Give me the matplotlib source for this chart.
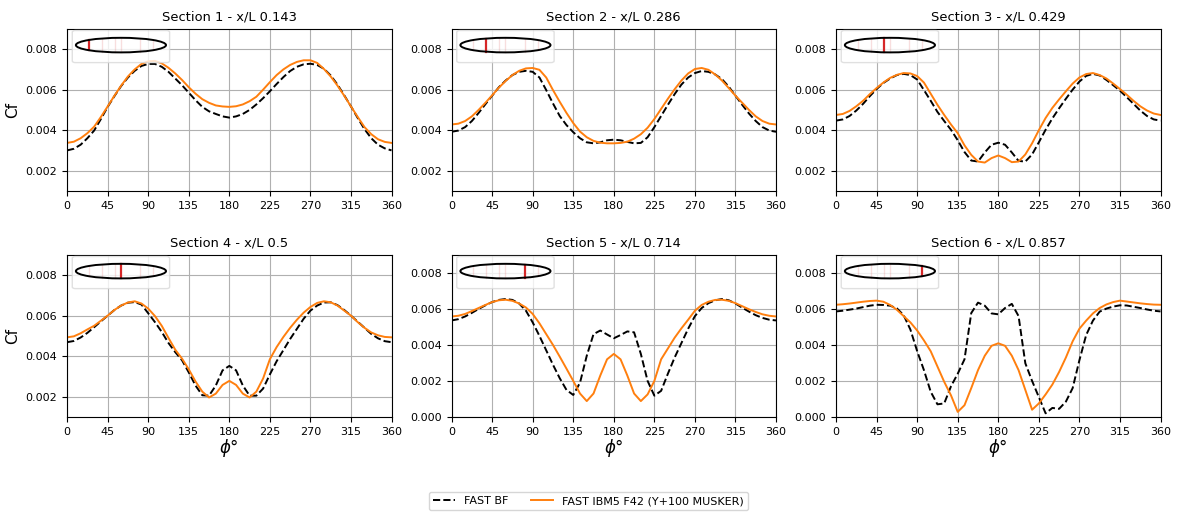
import numpy as np
import matplotlib
matplotlib.use('Agg')
import matplotlib.pyplot as plt
from matplotlib.patches import Ellipse, FancyBboxPatch

# Skin friction around the hull, six sections along the body
phi = np.arange(0, 360.1, 7.5)

sections = [0.143, 0.286, 0.429, 0.5, 0.714, 0.857]
titles = ['Section 1 - x/L 0.143', 'Section 2 - x/L 0.286', 'Section 3 - x/L 0.429',
          'Section 4 - x/L 0.5', 'Section 5 - x/L 0.714', 'Section 6 - x/L 0.857']

bf_1 = [0.00300, 0.00308, 0.00328, 0.00360, 0.00398, 0.00455, 0.00515, 0.00568, 0.00618, 0.00660,
        0.00693, 0.00717, 0.00727, 0.00727, 0.00713, 0.00688, 0.00655, 0.00622, 0.00585, 0.00548,
        0.00515, 0.00493, 0.00480, 0.00468, 0.00462, 0.00468, 0.00480, 0.00500, 0.00527, 0.00558,
        0.00592, 0.00628, 0.00662, 0.00692, 0.00713, 0.00725, 0.00728, 0.00722, 0.00703, 0.00670,
        0.00625, 0.00572, 0.00517, 0.00460, 0.00405, 0.00360, 0.00328, 0.00310, 0.00300]
ibm_1 = [0.00337, 0.00343, 0.00360, 0.00385, 0.00417, 0.00465, 0.00517, 0.00570, 0.00620, 0.00665,
         0.00700, 0.00727, 0.00740, 0.00742, 0.00730, 0.00708, 0.00680, 0.00648, 0.00612, 0.00580,
         0.00553, 0.00535, 0.00522, 0.00517, 0.00515, 0.00518, 0.00527, 0.00543, 0.00565, 0.00600,
         0.00637, 0.00672, 0.00700, 0.00722, 0.00737, 0.00745, 0.00745, 0.00732, 0.00702, 0.00665,
         0.00620, 0.00570, 0.00517, 0.00465, 0.00415, 0.00380, 0.00355, 0.00342, 0.00337]

bf_2 = [0.00392, 0.00398, 0.00415, 0.00445, 0.00485, 0.00528, 0.00570, 0.00612, 0.00645, 0.00672,
        0.00688, 0.00693, 0.00688, 0.00660, 0.00598, 0.00532, 0.00470, 0.00425, 0.00390, 0.00360,
        0.00340, 0.00335, 0.00340, 0.00350, 0.00353, 0.00350, 0.00342, 0.00335, 0.00337, 0.00365,
        0.00415, 0.00470, 0.00525, 0.00578, 0.00625, 0.00660, 0.00682, 0.00692, 0.00688, 0.00675,
        0.00652, 0.00615, 0.00570, 0.00525, 0.00482, 0.00445, 0.00415, 0.00398, 0.00392]
ibm_2 = [0.00428, 0.00432, 0.00445, 0.00468, 0.00500, 0.00535, 0.00572, 0.00610, 0.00643, 0.00672,
         0.00693, 0.00705, 0.00707, 0.00698, 0.00660, 0.00598, 0.00540, 0.00485, 0.00435, 0.00393,
         0.00365, 0.00347, 0.00338, 0.00335, 0.00335, 0.00337, 0.00343, 0.00358, 0.00380, 0.00412,
         0.00455, 0.00505, 0.00555, 0.00602, 0.00645, 0.00680, 0.00702, 0.00707, 0.00698, 0.00675,
         0.00645, 0.00608, 0.00570, 0.00535, 0.00500, 0.00468, 0.00445, 0.00432, 0.00428]

bf_3 = [0.00447, 0.00453, 0.00470, 0.00497, 0.00530, 0.00568, 0.00603, 0.00633, 0.00655, 0.00672,
        0.00678, 0.00672, 0.00650, 0.00598, 0.00545, 0.00490, 0.00445, 0.00402, 0.00350, 0.00292,
        0.00250, 0.00245, 0.00290, 0.00328, 0.00338, 0.00328, 0.00290, 0.00248, 0.00245, 0.00280,
        0.00340, 0.00402, 0.00458, 0.00508, 0.00555, 0.00600, 0.00640, 0.00668, 0.00678, 0.00670,
        0.00648, 0.00622, 0.00595, 0.00563, 0.00530, 0.00497, 0.00470, 0.00453, 0.00447]
ibm_3 = [0.00475, 0.00480, 0.00495, 0.00518, 0.00545, 0.00578, 0.00608, 0.00635, 0.00658, 0.00673,
         0.00682, 0.00680, 0.00667, 0.00635, 0.00580, 0.00525, 0.00475, 0.00428, 0.00385, 0.00325,
         0.00278, 0.00245, 0.00240, 0.00262, 0.00275, 0.00262, 0.00242, 0.00245, 0.00280, 0.00335,
         0.00400, 0.00460, 0.00510, 0.00552, 0.00592, 0.00630, 0.00660, 0.00677, 0.00682, 0.00672,
         0.00655, 0.00630, 0.00603, 0.00575, 0.00545, 0.00518, 0.00497, 0.00482, 0.00475]

bf_4 = [0.00469, 0.00475, 0.00492, 0.00515, 0.00543, 0.00572, 0.00600, 0.00628, 0.00650, 0.00664,
        0.00667, 0.00655, 0.00612, 0.00568, 0.00520, 0.00465, 0.00420, 0.00380, 0.00320, 0.00255,
        0.00207, 0.00205, 0.00255, 0.00330, 0.00352, 0.00330, 0.00255, 0.00205, 0.00205, 0.00240,
        0.00310, 0.00375, 0.00430, 0.00485, 0.00535, 0.00585, 0.00625, 0.00650, 0.00665, 0.00666,
        0.00652, 0.00628, 0.00600, 0.00570, 0.00540, 0.00510, 0.00488, 0.00474, 0.00469]
ibm_4 = [0.00493, 0.00498, 0.00513, 0.00532, 0.00550, 0.00575, 0.00600, 0.00628, 0.00650, 0.00665,
         0.00671, 0.00660, 0.00635, 0.00598, 0.00550, 0.00490, 0.00432, 0.00388, 0.00335, 0.00275,
         0.00225, 0.00196, 0.00215, 0.00258, 0.00278, 0.00258, 0.00215, 0.00196, 0.00225, 0.00290,
         0.00385, 0.00445, 0.00495, 0.00540, 0.00580, 0.00615, 0.00643, 0.00663, 0.00671, 0.00666,
         0.00650, 0.00625, 0.00600, 0.00568, 0.00540, 0.00517, 0.00503, 0.00495, 0.00493]

bf_5 = [0.00536, 0.00543, 0.00558, 0.00578, 0.00600, 0.00620, 0.00638, 0.00650, 0.00655, 0.00650,
        0.00630, 0.00590, 0.00525, 0.00450, 0.00370, 0.00290, 0.00215, 0.00150, 0.00122, 0.00190,
        0.00340, 0.00460, 0.00480, 0.00458, 0.00437, 0.00455, 0.00475, 0.00470, 0.00350, 0.00200,
        0.00118, 0.00145, 0.00240, 0.00330, 0.00410, 0.00490, 0.00560, 0.00605, 0.00632, 0.00648,
        0.00655, 0.00648, 0.00630, 0.00607, 0.00585, 0.00565, 0.00550, 0.00540, 0.00536]
ibm_5 = [0.00558, 0.00562, 0.00572, 0.00588, 0.00605, 0.00622, 0.00638, 0.00648, 0.00651, 0.00645,
         0.00630, 0.00608, 0.00572, 0.00520, 0.00460, 0.00400, 0.00335, 0.00268, 0.00200, 0.00130,
         0.00088, 0.00130, 0.00230, 0.00320, 0.00350, 0.00320, 0.00230, 0.00130, 0.00088, 0.00125,
         0.00200, 0.00320, 0.00380, 0.00440, 0.00492, 0.00540, 0.00590, 0.00622, 0.00640, 0.00650,
         0.00651, 0.00645, 0.00632, 0.00615, 0.00598, 0.00583, 0.00570, 0.00562, 0.00558]

bf_6 = [0.00586, 0.00590, 0.00596, 0.00602, 0.00610, 0.00618, 0.00623, 0.00622, 0.00618, 0.00603,
        0.00565, 0.00485, 0.00365, 0.00260, 0.00140, 0.00070, 0.00075, 0.00170, 0.00240, 0.00320,
        0.00577, 0.00635, 0.00618, 0.00575, 0.00570, 0.00605, 0.00628, 0.00560, 0.00298, 0.00200,
        0.00110, 0.00020, 0.00050, 0.00045, 0.00085, 0.00160, 0.00315, 0.00455, 0.00535, 0.00585,
        0.00602, 0.00613, 0.00620, 0.00619, 0.00612, 0.00605, 0.00597, 0.00590, 0.00586]
ibm_6 = [0.00623, 0.00626, 0.00630, 0.00635, 0.00640, 0.00644, 0.00646, 0.00640, 0.00622, 0.00595,
         0.00560, 0.00525, 0.00480, 0.00425, 0.00365, 0.00280, 0.00195, 0.00120, 0.00028, 0.00065,
         0.00160, 0.00260, 0.00340, 0.00395, 0.00409, 0.00395, 0.00340, 0.00260, 0.00150, 0.00040,
         0.00075, 0.00125, 0.00180, 0.00250, 0.00330, 0.00420, 0.00490, 0.00535, 0.00575, 0.00605,
         0.00625, 0.00638, 0.00646, 0.00641, 0.00636, 0.00631, 0.00627, 0.00624, 0.00623]

bf_all = [bf_1, bf_2, bf_3, bf_4, bf_5, bf_6]
ibm_all = [ibm_1, ibm_2, ibm_3, ibm_4, ibm_5, ibm_6]
ylims = [(0.001, 0.009), (0.001, 0.009), (0.001, 0.009), (0.001, 0.009), (0, 0.009), (0, 0.009)]


def draw_hull(ax, xl):
    # little sketch of the body with the section marked
    frame = FancyBboxPatch((0.016, 0.792), 0.30, 0.198, boxstyle='round,pad=0,rounding_size=0.01',
                           transform=ax.transAxes, facecolor='white', edgecolor='0.85',
                           alpha=0.8, lw=1.0, zorder=4)
    ax.add_patch(frame)
    ins = ax.inset_axes([0.016, 0.792, 0.30, 0.198], zorder=5)
    ins.set_xlim(-0.04, 1.04)
    ins.set_ylim(-2.4, 2.0)
    ins.axis('off')
    ins.patch.set_alpha(0)
    for s in sections:
        h = np.sqrt(max(0.0, 1 - (2 * s - 1) ** 2))
        if s == xl:
            ins.plot([s, s], [-h, h], color='tab:red', lw=1.6, zorder=3)
        else:
            ins.plot([s, s], [-h, h], color='tab:red', lw=1.0, alpha=0.15, zorder=2)
    ins.add_patch(Ellipse((0.5, 0), 1.0, 2.0, fill=False, edgecolor='k', lw=1.4, zorder=4))


fig, axes = plt.subplots(2, 3, figsize=(11.77, 5.16), dpi=100)
plt.subplots_adjust(left=0.057, right=0.986, top=0.944, bottom=0.192, wspace=0.185, hspace=0.395)

for i, ax in enumerate(axes.flat):
    l1, = ax.plot(phi, bf_all[i], 'k--', lw=1.4, label='FAST BF')
    l2, = ax.plot(phi, ibm_all[i], color='tab:orange', lw=1.4, label='FAST IBM5 F42 (Y+100 MUSKER)')
    ax.set_xlim(0, 360)
    ax.set_ylim(*ylims[i])
    ax.set_xticks(np.arange(0, 361, 45))
    ax.set_yticks(np.arange(0.002 if ylims[i][0] > 0 else 0.0, 0.0081, 0.002))
    ax.yaxis.set_major_formatter(matplotlib.ticker.FormatStrFormatter('%.3f'))
    ax.tick_params(labelsize=8)
    ax.grid(True)
    ax.set_title(titles[i], fontsize=9.4)
    if i % 3 == 0:
        ax.set_ylabel('Cf', fontsize=11)
    if i >= 3:
        ax.set_xlabel(r'$\phi$°', fontsize=12, labelpad=0)
    draw_hull(ax, sections[i])

fig.legend([l1, l2], ['FAST BF', 'FAST IBM5 F42 (Y+100 MUSKER)'], loc='lower center',
           bbox_to_anchor=(0.5, 0.0), ncol=2, fontsize=8)

plt.savefig('out.png', dpi=100)
